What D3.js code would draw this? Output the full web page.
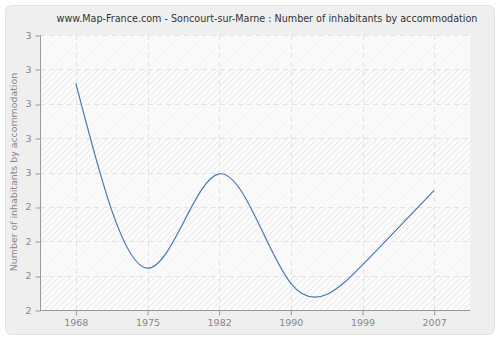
<!DOCTYPE html>
<html><head><meta charset="utf-8">
<script src="https://cdn.jsdelivr.net/npm/d3@7"></script>
<style>html,body{margin:0;padding:0;background:#fff;}svg{display:block;}</style>
</head><body>
<script>
const years = ["1968", "1975", "1982", "1990", "1999", "2007"];
const values = [2.824, 2.152, 2.495, 2.097, 2.164, 2.435];
const yTickValues = [2, 2.125, 2.25, 2.375, 2.5, 2.625, 2.75, 2.875, 3];
const yTickLabels = ["2", "2", "2", "2", "3", "3", "3", "3", "3"];
const title = "www.Map-France.com - Soncourt-sur-Marne : Number of inhabitants by accommodation";
const yTitle = "Number of inhabitants by accommodation";

const W = 500, H = 340;
const m = {left: 40, right: 30, top: 35, bottom: 30};
const svg = d3.select("body").append("svg").attr("width", W).attr("height", H);
const font = "'DejaVu Sans', Verdana, sans-serif";

svg.append("rect").attr("x", 0).attr("y", 0).attr("width", W).attr("height", H).attr("fill", "#ffffff");
svg.append("rect").attr("x", 5.5).attr("y", 5.5).attr("width", 489).attr("height", 329)
  .attr("rx", 6).attr("fill", "#efefef").attr("stroke", "#e2e2e2");

const defs = svg.append("defs");
const pat = defs.append("pattern").attr("id", "hatch").attr("patternUnits", "userSpaceOnUse")
  .attr("width", 6).attr("height", 6);
pat.append("rect").attr("width", 6).attr("height", 6).attr("fill", "#fbfbfb");
pat.append("path").attr("d", "M-1,1 l2,-2 M0,6 l6,-6 M5,7 l2,-2").attr("stroke", "#e6e6e6").attr("stroke-width", 1);

const x = d3.scalePoint().domain(years).range([m.left, W - m.right]).padding(0.5);
const y = d3.scaleLinear().domain([2, 3]).range([H - m.bottom, m.top]);

const x0 = m.left, x1 = W - m.right;
svg.append("rect").attr("x", x0).attr("y", m.top).attr("width", x1 - x0).attr("height", H - m.bottom - m.top)
  .attr("fill", "url(#hatch)");
// alternating lighter bands
for (let i = 0; i < yTickValues.length - 1; i++) {
  if (i % 2 === 1) {
    svg.append("rect").attr("x", x0).attr("width", x1 - x0)
      .attr("y", y(yTickValues[i + 1])).attr("height", y(yTickValues[i]) - y(yTickValues[i + 1]))
      .attr("fill", "#fafafa").attr("opacity", 0.7);
  }
}

// grid
const g = svg.append("g");
g.selectAll(".hg").data(yTickValues.slice(1)).join("line")
  .attr("x1", x0).attr("x2", x1)
  .attr("y1", d => Math.round(y(d)) + 0.5).attr("y2", d => Math.round(y(d)) + 0.5)
  .attr("stroke", "#e2e2e2").attr("stroke-dasharray", "5,4");
g.selectAll(".vg").data(years).join("line")
  .attr("y1", m.top).attr("y2", H - m.bottom)
  .attr("x1", d => Math.round(x(d)) + 0.5).attr("x2", d => Math.round(x(d)) + 0.5)
  .attr("stroke", "#e2e2e2").attr("stroke-dasharray", "5,4");

// line
const line = d3.line().x((d, i) => x(years[i])).y(d => y(d)).curve(d3.curveNatural);
svg.append("path").datum(values).attr("d", line).attr("fill", "none")
  .attr("stroke", "#4a78b0").attr("stroke-width", 1.2);

// axes
const yAxis = d3.axisLeft(y).tickValues(yTickValues).tickSize(5).tickPadding(4)
  .tickFormat((d, i) => yTickLabels[i]);
const ya = svg.append("g").attr("transform", `translate(${x0 + 0.5},0)`).call(yAxis);
const xAxis = d3.axisBottom(x).tickSize(5).tickPadding(4);
const xa = svg.append("g").attr("transform", `translate(0,${H - m.bottom + 0.5})`).call(xAxis);
[ya, xa].forEach(a => {
  a.selectAll(".tick line").attr("stroke", "#999");
  a.selectAll("text").attr("fill", "#888").style("font-family", font).style("font-size", "9.5px");
});
ya.select(".domain").remove();
xa.select(".domain").remove();
ya.selectAll(".tick line").attr("transform", d => `translate(0,${Math.round(y(d)) + 0.5 - y(d)})`);
svg.append("line").attr("x1", x0 + 0.5).attr("x2", x0 + 0.5).attr("y1", m.top).attr("y2", H - m.bottom + 0.5).attr("stroke", "#999");
svg.append("line").attr("x1", x0).attr("x2", x1).attr("y1", H - m.bottom + 0.5).attr("y2", H - m.bottom + 0.5).attr("stroke", "#999");

// titles
svg.append("text").attr("x", 267).attr("y", 22).attr("text-anchor", "middle")
  .style("font-family", font).style("font-size", "9.6px").attr("fill", "#333").text(title);
svg.append("text").attr("transform", `translate(17,172) rotate(-90)`).attr("text-anchor", "middle")
  .style("font-family", font).style("font-size", "9.4px").attr("fill", "#888").text(yTitle);
</script>
</body></html>
